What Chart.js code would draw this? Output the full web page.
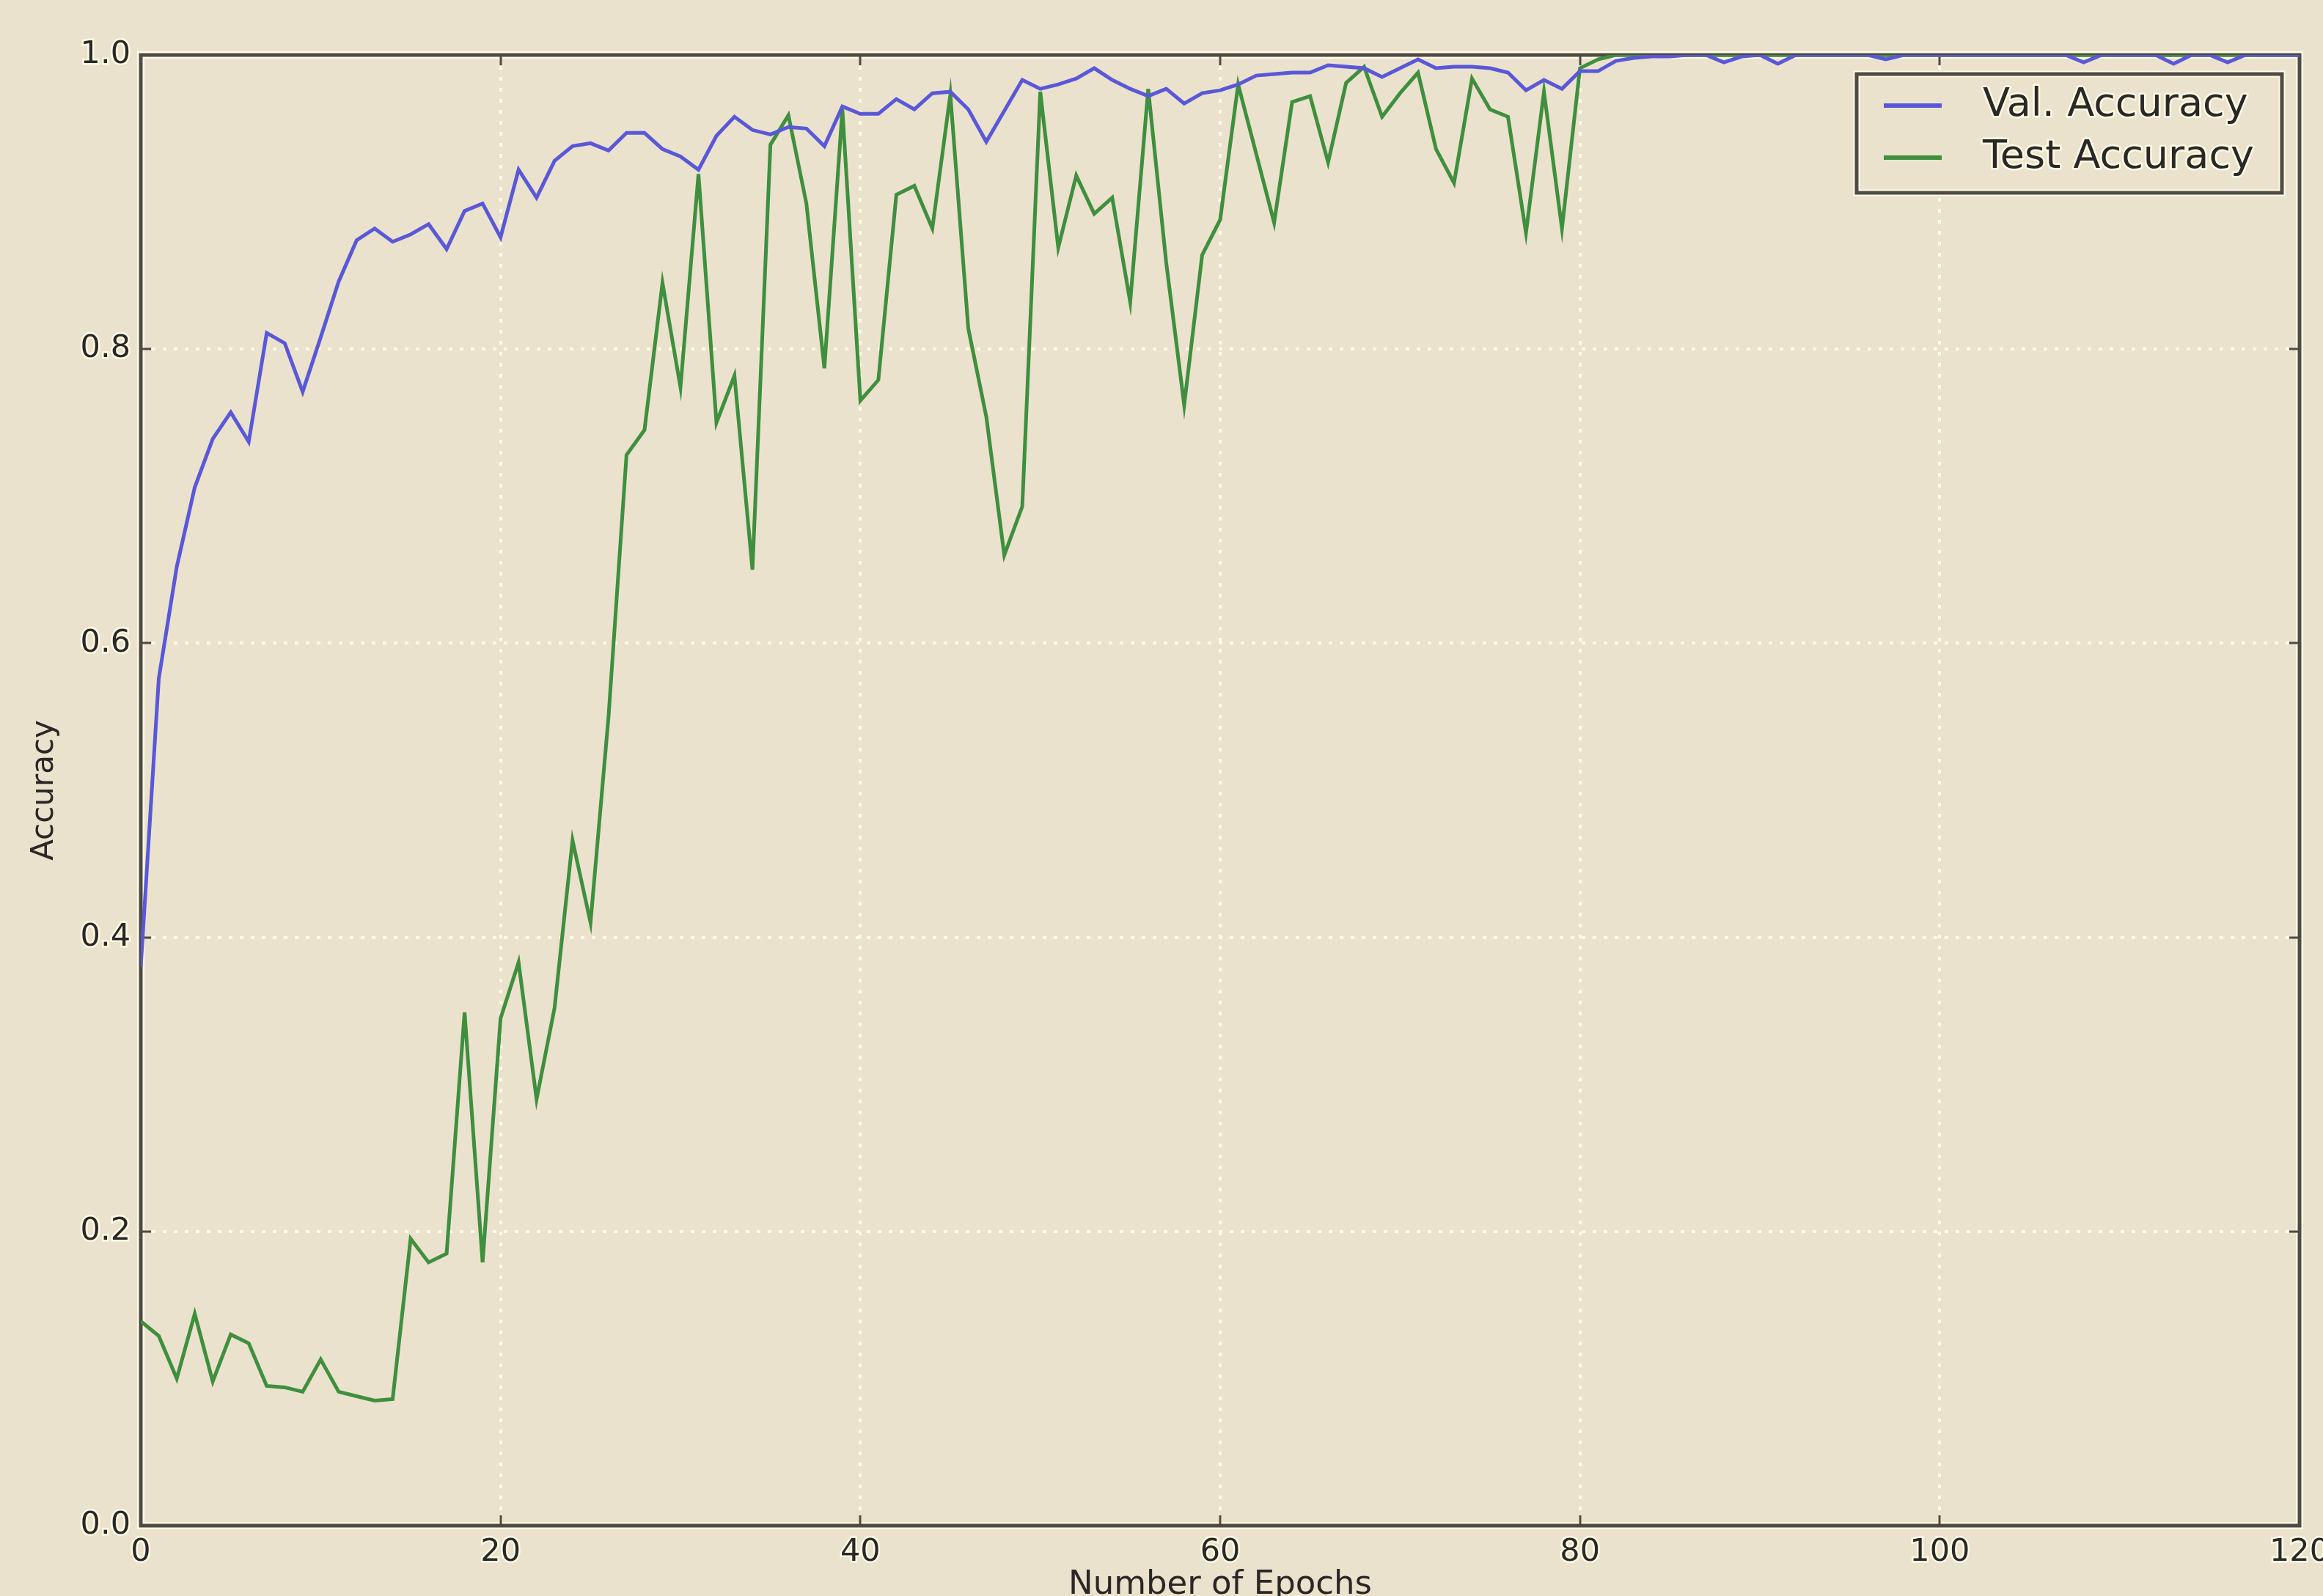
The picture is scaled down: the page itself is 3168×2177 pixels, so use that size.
<!DOCTYPE html>
<html>
<head>
<meta charset="utf-8">
<script src="https://cdn.jsdelivr.net/npm/chart.js@4.4.1/dist/chart.umd.min.js"></script>
<style>
  html, body { margin: 0; padding: 0; background: #ebe2cd; }
  canvas { display: block; }
</style>
</head>
<body>
<canvas id="c" width="3168" height="2177"></canvas>
<script>
// ---- data ----
const epochs = [0,1,2,3,4,5,6,7,8,9,10,11,12,13,14,15,16,17,18,19,20,21,22,23,24,25,26,27,28,29,30,
  31,32,33,34,35,36,37,38,39,40,41,42,43,44,45,46,47,48,49,50,51,52,53,54,55,56,57,58,59,60,
  61,62,63,64,65,66,67,68,69,70,71,72,73,74,75,76,77,78,79,80,81,82,83,84,85,86,87,88,89,90,
  91,92,93,94,95,96,97,98,99,100,101,102,103,104,105,106,107,108,109,110,111,112,113,114,115,116,117,118,119,120];

const valAccuracy = [0.380,0.576,0.652,0.706,0.739,0.757,0.737,0.811,0.804,0.771,
  0.808,0.846,0.874,0.882,0.873,0.878,0.885,0.868,0.894,0.899,
  0.876,0.922,0.903,0.928,0.938,0.940,0.935,0.947,0.947,0.936,
  0.931,0.922,0.945,0.958,0.949,0.946,0.951,0.950,0.938,0.965,
  0.960,0.960,0.970,0.963,0.974,0.975,0.963,0.941,0.962,0.983,
  0.977,0.980,0.984,0.991,0.983,0.977,0.972,0.977,0.967,0.974,
  0.976,0.980,0.986,0.987,0.988,0.988,0.993,0.992,0.991,0.985,
  0.991,0.997,0.991,0.992,0.992,0.991,0.988,0.976,0.983,0.977,
  0.989,0.989,0.996,0.998,0.999,0.999,1.000,1.000,0.995,0.999,
  1.000,0.994,1.000,1.000,1.000,1.000,1.000,0.997,1.000,1.000,
  1.000,1.000,1.000,1.000,1.000,1.000,1.000,1.000,0.995,1.000,
  1.000,1.000,1.000,0.994,1.000,1.000,0.995,1.000,1.000,1.000,1.000];

const testAccuracy = [0.139,0.129,0.100,0.144,0.098,0.130,0.124,0.095,0.094,0.091,
  0.113,0.091,0.088,0.085,0.086,0.195,0.179,0.185,0.349,0.179,
  0.345,0.383,0.290,0.352,0.466,0.410,0.550,0.728,0.745,0.845,
  0.774,0.919,0.750,0.782,0.650,0.939,0.959,0.899,0.787,0.963,
  0.765,0.779,0.905,0.911,0.882,0.973,0.814,0.754,0.660,0.693,
  0.975,0.869,0.918,0.892,0.903,0.832,0.977,0.859,0.762,0.864,
  0.888,0.980,0.933,0.886,0.968,0.972,0.927,0.981,0.992,0.958,
  0.974,0.988,0.936,0.913,0.984,0.963,0.958,0.879,0.975,0.882,
  0.991,0.997,1.000,1.000,1.000,1.000,1.000,1.000,1.000,1.000,
  1.000,1.000,1.000,1.000,1.000,1.000,1.000,1.000,1.000,1.000,
  1.000,1.000,1.000,1.000,1.000,1.000,1.000,1.000,1.000,1.000,
  1.000,1.000,1.000,1.000,1.000,1.000,1.000,1.000,1.000,1.000,1.000];

const seriesNames = ['Val. Accuracy', 'Test Accuracy'];
const xTickValues = [0, 20, 40, 60, 80, 100, 120];
const xTickLabels = ['0', '20', '40', '60', '80', '100', '120'];
const yTickValues = [0, 0.2, 0.4, 0.6, 0.8, 1.0];
const yTickLabels = ['0.0', '0.2', '0.4', '0.6', '0.8', '1.0'];
const xTitle = 'Number of Epochs';
const yTitle = 'Accuracy';

// ---- style ----
const BG = '#ebe2cd';
const GRID = '#fffbe4';
const FRAME = '#4f4a44';
const HALO = '#fffbe4';
const TEXT = '#2a2826';
const VAL_COLOR = '#5a58d8';
const TEST_COLOR = '#3f8f3f';
const FONT = '"DejaVu Sans", "Liberation Sans", sans-serif';

const bgPlugin = {
  id: 'bg',
  beforeDraw(chart) {
    const { ctx, width, height } = chart;
    ctx.save();
    ctx.fillStyle = BG;
    ctx.fillRect(0, 0, width, height);
    ctx.restore();
  }
};

const framePlugin = {
  id: 'frame',
  beforeDatasetsDraw(chart) {
    const { ctx, chartArea: a, scales: { x, y } } = chart;
    ctx.save();
    ctx.strokeStyle = GRID;
    ctx.lineWidth = 4;
    ctx.setLineDash([5, 10]);
    x.ticks.forEach(t => {
      const px = Math.round(x.getPixelForValue(t.value));
      ctx.beginPath(); ctx.moveTo(px, a.top); ctx.lineTo(px, a.bottom); ctx.stroke();
    });
    y.ticks.forEach(t => {
      const py = Math.round(y.getPixelForValue(t.value));
      ctx.beginPath(); ctx.moveTo(a.left, py); ctx.lineTo(a.right, py); ctx.stroke();
    });
    ctx.setLineDash([]);
    // frame with halo
    ctx.strokeStyle = HALO; ctx.lineWidth = 10;
    ctx.strokeRect(a.left, a.top, a.right - a.left, a.bottom - a.top);
    ctx.strokeStyle = FRAME; ctx.lineWidth = 5;
    ctx.strokeRect(a.left, a.top, a.right - a.left, a.bottom - a.top);
    // inward tick marks
    const L = 14;
    ctx.lineWidth = 3;
    x.ticks.forEach(t => {
      const px = Math.round(x.getPixelForValue(t.value));
      ctx.beginPath();
      ctx.moveTo(px, a.bottom); ctx.lineTo(px, a.bottom - L);
      ctx.moveTo(px, a.top); ctx.lineTo(px, a.top + L);
      ctx.stroke();
    });
    y.ticks.forEach(t => {
      const py = Math.round(y.getPixelForValue(t.value));
      ctx.beginPath();
      ctx.moveTo(a.left, py); ctx.lineTo(a.left + L, py);
      ctx.moveTo(a.right, py); ctx.lineTo(a.right - L, py);
      ctx.stroke();
    });
    ctx.restore();
  },
  afterDatasetsDraw(chart) {
    const { ctx } = chart;
    const box = { x: 2532, y: 101, w: 580, h: 162 };
    ctx.save();
    ctx.fillStyle = BG;
    ctx.fillRect(box.x, box.y, box.w, box.h);
    ctx.strokeStyle = HALO; ctx.lineWidth = 9;
    ctx.strokeRect(box.x, box.y, box.w, box.h);
    ctx.strokeStyle = FRAME; ctx.lineWidth = 5;
    ctx.strokeRect(box.x, box.y, box.w, box.h);
    ctx.font = '54px ' + FONT;
    ctx.textBaseline = 'middle';
    ctx.textAlign = 'left';
    chart.data.datasets.forEach((ds, i) => {
      const cy = box.y + 43 + i * 71;
      ctx.strokeStyle = ds.borderColor;
      ctx.lineWidth = 6;
      ctx.beginPath(); ctx.moveTo(box.x + 37, cy); ctx.lineTo(box.x + 116, cy); ctx.stroke();
      ctx.lineWidth = 5; ctx.strokeStyle = HALO; ctx.lineJoin = 'round';
      ctx.strokeText(ds.label, box.x + 172, cy);
      ctx.fillStyle = TEXT;
      ctx.fillText(ds.label, box.x + 172, cy);
    });
    ctx.restore();
  }
};

const toPoints = vals => epochs.map((e, i) => ({ x: e, y: vals[i] }));

new Chart(document.getElementById('c'), {
  type: 'line',
  data: {
    datasets: [
      { label: seriesNames[0], data: toPoints(valAccuracy), borderColor: VAL_COLOR, borderWidth: 5,
        pointRadius: 0, tension: 0, fill: false },
      { label: seriesNames[1], data: toPoints(testAccuracy), borderColor: TEST_COLOR, borderWidth: 5,
        pointRadius: 0, tension: 0, fill: false }
    ]
  },
  options: {
    responsive: false,
    animation: false,
    devicePixelRatio: 1,
    layout: { padding: { top: 75, right: 32, bottom: 0, left: 0 } },
    plugins: { legend: { display: false }, tooltip: { enabled: false } },
    scales: {
      x: {
        type: 'linear', min: 0, max: 120,
        afterBuildTicks: s => { s.ticks = xTickValues.map(v => ({ value: v })); },
        afterFit: s => { s.height = 96; s.paddingLeft = 0; s.paddingRight = 0; },
        grid: { display: false, drawTicks: false },
        border: { display: false },
        ticks: {
          padding: 11, color: TEXT, maxRotation: 0, autoSkip: false,
          font: { family: FONT, size: 43 },
          textStrokeColor: HALO, textStrokeWidth: 5,
          callback: (v, i) => xTickLabels[i]
        },
        title: { display: true, text: xTitle, color: TEXT,
          font: { family: FONT, size: 45, lineHeight: 1 }, padding: { top: 0, bottom: -8 } }
      },
      y: {
        min: 0, max: 1,
        afterBuildTicks: s => { s.ticks = yTickValues.map(v => ({ value: v })); },
        afterFit: s => { s.width = 192; s.paddingTop = 0; s.paddingBottom = 0; },
        grid: { display: false, drawTicks: false },
        border: { display: false },
        ticks: {
          padding: 14, color: TEXT,
          font: { family: FONT, size: 43 },
          textStrokeColor: HALO, textStrokeWidth: 5,
          callback: (v, i) => yTickLabels[i]
        },
        title: { display: true, text: yTitle, color: TEXT,
          font: { family: FONT, size: 42, lineHeight: 1 }, padding: { top: 40, bottom: 0 } }
      }
    }
  },
  plugins: [bgPlugin, framePlugin]
});
</script>
</body>
</html>
